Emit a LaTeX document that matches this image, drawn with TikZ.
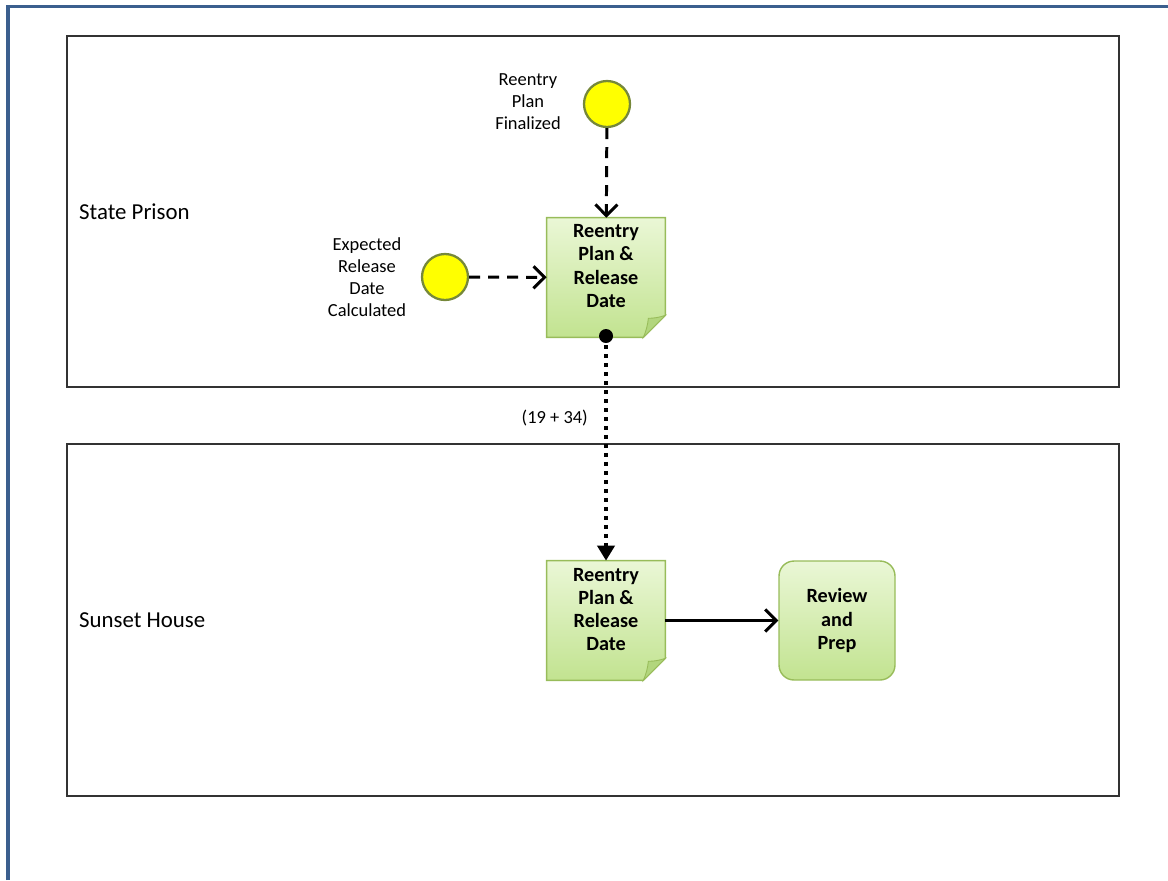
\documentclass[tikz,border=0pt]{standalone}
\usepackage{fontspec}
\setmainfont{Carlito}
\usetikzlibrary{arrows.meta,positioning}
\definecolor{frameBlue}{HTML}{3B5F8E}
\definecolor{docTop}{HTML}{EAF7D6}
\definecolor{docBottom}{HTML}{C2E390}
\definecolor{docBorder}{HTML}{98BC5A}
\definecolor{foldFill}{HTML}{B2D67D}
\definecolor{eventFill}{HTML}{FFFF00}
\definecolor{eventBorder}{HTML}{76883A}
\newcommand{\laneLeft}{67}
\newcommand{\laneRight}{1119}
\newcommand{\foldSize}{0.44}

\tikzset{
  lane/.style={draw=black!80, line width=0.6pt},
  lanelabel/.style={anchor=west, font=\fontsize{13}{15}\selectfont},
  event/.style={circle, draw=eventBorder, line width=1.3pt, fill=eventFill, minimum size=0.92cm, inner sep=0pt},
  eventlabel/.style={align=center, font=\fontsize{10.5}{12.5}\selectfont},
  docnode/.style={minimum width=2.36cm, minimum height=2.38cm, inner sep=0pt, align=center,
    font=\bfseries\fontsize{11.5}{13.2}\selectfont},
  doctext/.style={inner sep=0pt, align=center, font=\bfseries\fontsize{11.5}{13.2}\selectfont},
  taskbox/.style={draw=docBorder, line width=0.8pt, rounded corners=0.3cm, top color=docTop,
    bottom color=docBottom, minimum width=2.32cm, minimum height=2.38cm, align=center,
    font=\bfseries\fontsize{11.5}{13.2}\selectfont},
  flow/.style={line width=1.7pt, -{Straight Barb[length=2.2mm, width=4.4mm, line width=1.7pt]}},
  info/.style={flow, dash pattern=on 2.2mm off 1.6mm},
  msg/.style={line width=0.08cm, dash pattern=on 0.08cm off 0.1cm, -{Triangle[length=3mm, width=3.4mm]}}
}
\newcommand{\drawDoc}[1]{%
  \draw[docBorder, line width=0.8pt, top color=docTop, bottom color=docBottom]
    (#1.north west) -- (#1.north east) -- ([yshift=\foldSize cm]#1.south east)
    -- ([xshift=-\foldSize cm]#1.south east) -- (#1.south west) -- cycle;
  \draw[docBorder, line width=0.5pt, fill=foldFill] ([yshift=\foldSize cm]#1.south east)
    to[bend left=8] ([xshift=-0.34cm, yshift=0.38cm]#1.south east)
    to[bend left=8] ([xshift=-\foldSize cm]#1.south east) -- cycle;
}

\begin{document}
\begin{tikzpicture}[x=0.02cm, y=-0.02cm]
\useasboundingbox (0,0) rectangle (1168,880);
% outer frame
\draw[frameBlue, line width=2pt] (8,880) -- (8,6.5) -- (1168,6.5);

% lanes
\draw[lane] (\laneLeft,36) rectangle (\laneRight,387);
\draw[lane] (\laneLeft,444) rectangle (\laneRight,796);
\node[lanelabel] (prison) at (73,212) {State Prison};
\node[lanelabel] (sunset) at (73,620) {Sunset House};

% state prison
\node[event] (finalized) at (607,104) {};
\node[eventlabel] (finalizedtxt) at (528,102) {Reentry\\Plan\\Finalized};
\node[event] (calculated) at (445,277) {};
\node[eventlabel] (calculatedtxt) at (367,277) {Expected\\Release\\Date\\Calculated};
\node[docnode] (plan1) at (606,277.5) {};
\drawDoc{plan1}
\node[doctext] (plan1txt) at (606,266) {Reentry\\Plan \&\\Release\\Date};

\draw[info] (finalized) -- (plan1);
\draw[info] (calculated) -- (plan1);

% sunset house
\node[docnode] (plan2) at (606,620.5) {};
\drawDoc{plan2}
\node[doctext] (plan2txt) at (606,609.5) {Reentry\\Plan \&\\Release\\Date};
\node[taskbox] (review) at (837,620.5) {Review\\and\\Prep};

\coordinate (msgstart) at (606,336);
\fill (msgstart) circle (0.14cm);
\draw[msg] (msgstart) -- (plan2.north);
\node[eventlabel, anchor=east] (msgtxt) at (594,418) {(19 + 34)};

\draw[flow] (plan2) -- (review);
\end{tikzpicture}
\end{document}
